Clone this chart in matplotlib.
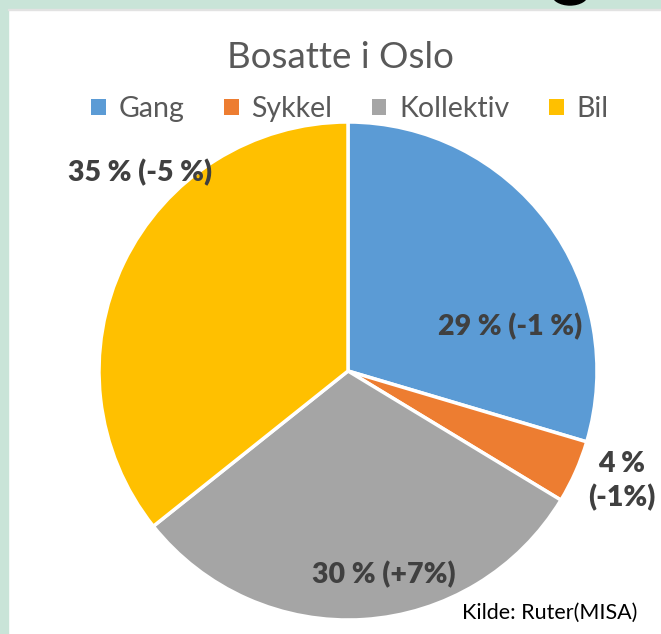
import numpy as np
import matplotlib
matplotlib.use("Agg")
import matplotlib.pyplot as plt
from matplotlib.patches import Rectangle, Ellipse, Patch

# ---- data ----
categories = ["Gang", "Sykkel", "Kollektiv", "Bil"]
shares = [29, 4, 30, 35]
label_texts = ["29 % (-1 %)", "4 %\n(-1%)", "30 % (+7%)", "35 % (-5 %)"]
title = "Bosatte i Oslo"
source = "Kilde: Ruter(MISA)"

# ---- style ----
colors = ["#5B9BD5", "#ED7D31", "#A5A5A5", "#FFC000"]
label_radius = [0.675, 1.186, 0.832, 1.153]
label_angle = [15.5, -21.9, -80.0, 136.4]
FONT = ["Lato", "DejaVu Sans"]
plt.rcParams["font.family"] = FONT

W, H = 661, 634
fig = plt.figure(figsize=(W / 100, H / 100), dpi=100, facecolor="white")

# green frame around the chart area
green = "#C9E4D8"
fig.patches.append(Rectangle((0, 0), 8 / W, 1, transform=fig.transFigure, color=green, zorder=0))
fig.patches.append(Rectangle((0, 1 - 9 / H), 1, 9 / H, transform=fig.transFigure, color=green, zorder=0))
fig.patches.append(Rectangle((8 / W, 1 - 10 / H), 1, 1 / H, transform=fig.transFigure, color="#E2E2E2", zorder=0))
fig.patches.append(Ellipse((570 / W, 1 + 6 / H), 36 / W, 22 / H, transform=fig.transFigure, color="black", zorder=1))

# axes positioned so the pie has radius ~249 px centred at (348, 371)
cx, cy, r = 348, 371, 249
ax = fig.add_axes([(cx - r) / W, (H - cy - r) / H, 2 * r / W, 2 * r / H])
wedges, _ = ax.pie(shares, colors=colors, startangle=90, counterclock=False,
                   wedgeprops=dict(edgecolor="white", linewidth=2.5), radius=1)
ax.set_xlim(-1, 1)
ax.set_ylim(-1, 1)
ax.set_aspect("equal")
ax.axis("off")

for txt, rad, ang in zip(label_texts, label_radius, label_angle):
    a = np.deg2rad(ang)
    ax.text(rad * np.cos(a), rad * np.sin(a), txt, ha="center", va="center",
            fontsize=20.5, fontweight="heavy", color="#404040", linespacing=1.3,
            clip_on=False)

fig.text(340 / W, 1 - 57 / H, title, ha="center", va="center", fontsize=26.5, color="#595959")

handles = [Patch(facecolor=c, edgecolor="none") for c in colors]
fig.legend(handles, categories, loc="center", bbox_to_anchor=(350 / W, 1 - 109 / H),
           ncol=4, frameon=False, fontsize=20.5, labelcolor="#595959",
           handlelength=0.5, handleheight=0.5, handletextpad=0.45, columnspacing=1.4)

fig.text(550 / W, 1 - 613 / H, source, ha="center", va="center", fontsize=15.5, color="black")

fig.savefig("out.png", dpi=100, facecolor="white")
